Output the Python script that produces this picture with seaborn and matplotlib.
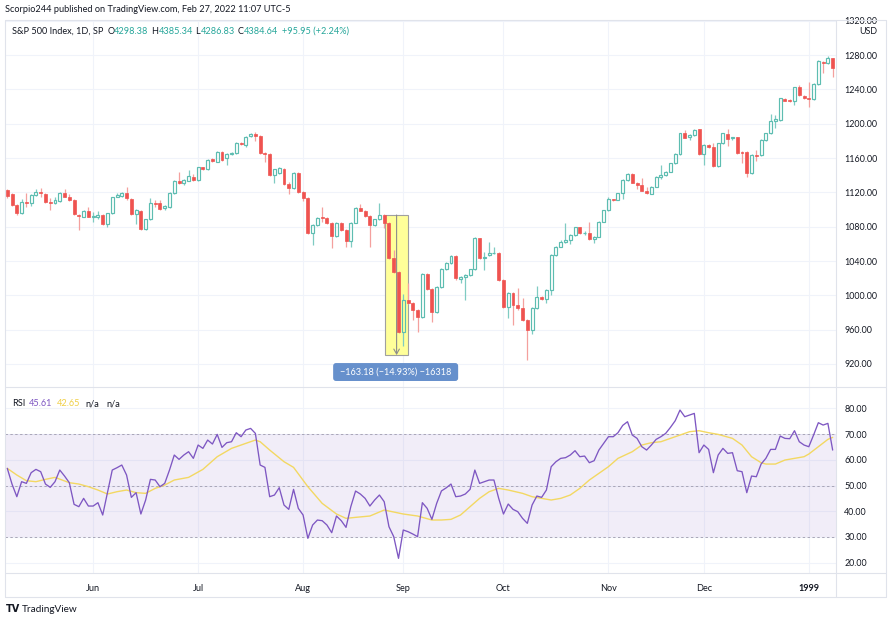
import numpy as np
import pandas as pd
import matplotlib
matplotlib.use("Agg")
import matplotlib.pyplot as plt
import seaborn as sns
from matplotlib.patches import Rectangle, FancyBboxPatch
from matplotlib.lines import Line2D

# daily candles, May 5 1998 .. Jan 11 1999 (bar index 0..173)
opens = [
    1122.7, 1118.1, 1105.3, 1095.5, 1109.1, 1107.2, 1116.9, 1120.0, 1118.1, 1109.1,
    1107.2, 1109.9, 1119.6, 1115.0, 1111.1, 1094.0, 1091.7, 1098.7, 1090.9, 1091.7,
    1093.6, 1083.1, 1095.5, 1115.0, 1115.7, 1118.9, 1112.6, 1094.8, 1098.7, 1076.9,
    1088.6, 1108.0, 1107.2, 1101.4, 1102.5, 1119.6, 1133.6, 1130.5, 1133.6, 1137.5,
    1134.4, 1149.1, 1146.8, 1158.5, 1155.7, 1167.4, 1159.6, 1164.7, 1165.5, 1177.9,
    1175.2, 1185.7, 1188.0, 1185.7, 1166.2, 1164.7, 1140.2, 1142.2, 1147.3, 1130.2,
    1125.2, 1143.0, 1120.8, 1113.0, 1073.0, 1081.9, 1091.6, 1089.7, 1083.9, 1069.1,
    1084.6, 1076.1, 1063.7, 1084.6, 1101.4, 1098.6, 1092.4, 1081.9, 1088.5, 1093.6,
    1084.6, 1043.1, 1027.6, 957.7, 994.5, 991.4, 982.9, 974.4, 1024.5, 1007.0,
    980.9, 1010.1, 1030.3, 1038.0, 1045.8, 1018.6, 1021.0, 1023.7, 1030.3, 1066.4,
    1043.1, 1047.0, 1048.9, 1049.7, 1017.9, 986.8, 1003.1, 988.7, 984.8, 971.2,
    959.6, 984.8, 998.4, 995.3, 1006.2, 1047.0, 1056.7, 1062.5, 1064.5, 1070.3,
    1079.2, 1072.2, 1073.0, 1065.6, 1068.3, 1085.8, 1099.4, 1111.9, 1111.1, 1118.8,
    1134.4, 1141.3, 1131.3, 1128.9, 1122.0, 1118.1, 1126.6, 1137.5, 1140.2, 1144.1,
    1153.8, 1164.7, 1188.7, 1184.1, 1186.8, 1193.4, 1164.7, 1175.1, 1172.4, 1150.7,
    1177.1, 1187.6, 1182.9, 1184.1, 1167.4, 1167.4, 1142.1, 1163.5, 1163.5, 1181.0,
    1188.7, 1203.5, 1204.3, 1229.1, 1227.6, 1226.0, 1242.3, 1232.2, 1229.9, 1228.4,
    1246.2, 1272.2, 1271.1, 1276.1,
]
highs = [
    1123.5, 1119.0, 1106.0, 1111.9, 1119.6, 1118.0, 1123.5, 1125.3, 1119.0, 1113.9,
    1114.2, 1120.5, 1123.5, 1118.1, 1112.0, 1095.0, 1099.5, 1103.3, 1097.5, 1098.3,
    1095.0, 1096.5, 1115.0, 1119.6, 1120.8, 1126.6, 1113.5, 1100.5, 1099.5, 1089.5,
    1113.0, 1111.1, 1111.1, 1105.0, 1120.5, 1134.5, 1144.1, 1135.5, 1146.0, 1141.4,
    1150.0, 1150.0, 1158.5, 1159.5, 1168.3, 1168.5, 1165.5, 1167.0, 1178.8, 1178.8,
    1185.5, 1189.5, 1190.7, 1186.5, 1167.0, 1165.5, 1147.5, 1149.0, 1148.0, 1132.0,
    1144.0, 1143.5, 1122.0, 1114.0, 1083.0, 1091.5, 1103.3, 1091.0, 1085.0, 1085.5,
    1085.5, 1077.0, 1085.5, 1102.5, 1106.4, 1099.5, 1093.5, 1089.5, 1107.2, 1094.5,
    1085.5, 1052.8, 1028.5, 1001.5, 1014.0, 992.5, 984.0, 1025.5, 1025.5, 1008.0,
    1011.0, 1031.5, 1039.0, 1047.0, 1046.5, 1022.0, 1024.5, 1031.0, 1067.5, 1067.0,
    1050.9, 1062.5, 1056.7, 1050.5, 1018.5, 1004.0, 1004.0, 1008.1, 996.5, 972.0,
    986.0, 1010.9, 999.5, 1007.0, 1048.0, 1057.5, 1064.5, 1084.7, 1071.0, 1080.0,
    1080.0, 1075.0, 1085.8, 1069.0, 1086.5, 1100.0, 1115.0, 1112.5, 1119.5, 1135.0,
    1142.0, 1142.0, 1132.0, 1136.3, 1126.6, 1127.5, 1138.5, 1151.9, 1145.0, 1154.5,
    1165.5, 1189.5, 1192.6, 1187.5, 1193.4, 1194.0, 1176.0, 1176.0, 1177.1, 1178.0,
    1189.5, 1193.4, 1185.0, 1185.0, 1168.0, 1168.0, 1164.5, 1169.3, 1182.0, 1189.5,
    1211.3, 1210.1, 1230.5, 1230.0, 1228.5, 1243.0, 1245.1, 1233.0, 1248.9, 1247.0,
    1274.0, 1273.0, 1278.8, 1277.0,
]
lows = [
    1113.0, 1104.0, 1094.0, 1094.5, 1103.3, 1104.1, 1116.0, 1115.0, 1108.0, 1099.4,
    1106.0, 1109.0, 1114.0, 1110.0, 1094.0, 1076.1, 1090.9, 1091.0, 1085.8, 1089.4,
    1082.0, 1080.0, 1094.5, 1114.0, 1115.0, 1111.1, 1093.6, 1083.1, 1076.0, 1076.0,
    1087.8, 1103.3, 1099.4, 1100.0, 1101.5, 1118.5, 1129.5, 1129.0, 1133.0, 1133.5,
    1133.5, 1145.5, 1146.0, 1155.0, 1155.0, 1157.0, 1151.9, 1163.5, 1164.7, 1175.0,
    1172.5, 1185.0, 1180.2, 1164.7, 1155.7, 1139.5, 1130.5, 1141.5, 1128.0, 1118.0,
    1124.0, 1119.0, 1110.0, 1072.0, 1058.6, 1081.0, 1085.8, 1083.0, 1054.7, 1068.0,
    1075.0, 1056.7, 1056.7, 1084.0, 1098.0, 1091.5, 1056.7, 1081.0, 1088.0, 1078.0,
    1042.0, 1026.0, 956.5, 941.0, 990.0, 971.2, 957.7, 973.5, 1006.0, 969.3,
    980.0, 1009.0, 1029.0, 1037.0, 1018.0, 1014.0, 994.5, 1022.0, 1029.5, 1042.0,
    1029.5, 1045.5, 1048.0, 1017.0, 985.5, 973.2, 965.4, 983.0, 970.0, 924.6,
    955.0, 984.0, 994.0, 990.7, 1000.4, 1046.0, 1056.0, 1061.5, 1059.8, 1069.5,
    1071.0, 1070.0, 1064.5, 1060.6, 1067.5, 1085.0, 1098.5, 1110.0, 1110.5, 1111.9,
    1133.5, 1130.5, 1124.0, 1121.0, 1118.0, 1117.5, 1126.0, 1136.0, 1139.0, 1143.5,
    1153.0, 1164.0, 1183.0, 1181.0, 1186.0, 1164.0, 1151.9, 1171.5, 1150.0, 1150.0,
    1176.5, 1174.0, 1181.5, 1164.5, 1154.6, 1138.3, 1141.0, 1156.9, 1162.5, 1180.0,
    1188.0, 1194.6, 1203.5, 1226.0, 1225.0, 1221.7, 1232.5, 1228.5, 1219.8, 1227.5,
    1245.5, 1259.4, 1270.0, 1254.8,
]
closes = [
    1115.7, 1105.3, 1095.5, 1109.1, 1107.2, 1116.9, 1120.8, 1118.9, 1109.1, 1107.2,
    1111.1, 1119.6, 1115.0, 1111.1, 1094.8, 1092.8, 1098.7, 1091.7, 1092.4, 1094.0,
    1083.1, 1095.5, 1114.2, 1116.9, 1119.6, 1113.0, 1094.8, 1099.4, 1076.9, 1088.6,
    1107.2, 1106.4, 1100.2, 1104.1, 1119.6, 1133.6, 1130.5, 1134.4, 1139.1, 1134.4,
    1149.1, 1146.8, 1157.7, 1156.1, 1167.4, 1157.7, 1164.7, 1166.2, 1177.9, 1176.3,
    1184.9, 1188.0, 1185.7, 1165.5, 1164.7, 1140.2, 1146.8, 1148.0, 1130.2, 1125.2,
    1143.0, 1120.7, 1113.0, 1073.0, 1081.9, 1090.5, 1089.7, 1083.9, 1069.1, 1084.6,
    1076.1, 1063.7, 1084.6, 1101.4, 1098.6, 1092.4, 1081.9, 1088.5, 1093.6, 1084.6,
    1043.1, 1027.6, 957.7, 994.5, 991.4, 982.9, 974.4, 1024.5, 1007.0, 980.9,
    1010.1, 1030.3, 1038.0, 1045.8, 1019.8, 1021.0, 1023.7, 1030.3, 1066.4, 1043.1,
    1045.0, 1048.9, 1049.7, 1017.9, 986.8, 1003.1, 988.7, 984.8, 971.2, 959.6,
    984.8, 998.4, 995.3, 1006.2, 1047.0, 1056.7, 1062.5, 1064.5, 1070.3, 1079.2,
    1072.2, 1073.0, 1065.6, 1068.3, 1085.8, 1099.4, 1111.9, 1111.1, 1118.8, 1134.4,
    1141.3, 1131.3, 1128.9, 1122.0, 1118.8, 1126.6, 1137.5, 1140.2, 1144.1, 1153.8,
    1164.7, 1188.7, 1183.7, 1186.8, 1192.6, 1164.7, 1175.1, 1172.4, 1150.7, 1177.1,
    1188.7, 1181.7, 1184.1, 1165.4, 1165.4, 1142.1, 1163.5, 1162.7, 1181.0, 1188.7,
    1203.5, 1205.1, 1229.5, 1226.8, 1226.0, 1242.3, 1233.4, 1229.5, 1228.4, 1246.2,
    1273.0, 1270.3, 1276.1, 1264.5,
]

rsi = [
    56.67, 50.50, 45.66, 51.49, 50.84, 54.99, 56.28, 55.38, 50.58, 49.29,
    51.49, 56.02, 53.69, 51.10, 42.68, 41.78, 45.01, 42.03, 42.03, 43.33,
    38.54, 47.22, 56.02, 56.93, 57.97, 54.08, 45.40, 47.22, 38.93, 44.37,
    52.40, 52.14, 49.55, 50.84, 56.02, 61.85, 60.17, 61.85, 63.15, 60.56,
    65.74, 64.44, 67.68, 66.13, 69.88, 64.83, 66.65, 67.03, 70.53, 68.98,
    71.57, 72.21, 70.27, 57.97, 57.06, 45.66, 46.31, 49.16, 42.42, 40.74,
    48.51, 41.13, 38.54, 29.47, 34.65, 36.59, 36.33, 34.65, 31.67, 38.15,
    36.33, 33.74, 41.78, 47.86, 46.70, 45.01, 42.03, 44.37, 46.31, 43.72,
    34.00, 30.12, 21.70, 32.71, 32.06, 31.15, 30.12, 43.33, 41.13, 36.85,
    43.07, 47.90, 49.10, 50.58, 45.66, 45.92, 46.70, 48.51, 56.02, 50.84,
    51.49, 52.14, 52.14, 45.01, 38.93, 42.81, 40.74, 39.83, 37.24, 35.30,
    42.42, 45.92, 45.40, 48.25, 57.32, 59.26, 60.56, 60.82, 61.85, 63.54,
    61.20, 61.46, 58.87, 59.65, 63.79, 66.38, 68.98, 68.98, 70.53, 73.38,
    74.80, 69.62, 68.33, 65.09, 63.79, 65.74, 67.94, 68.98, 70.27, 72.60,
    75.19, 79.34, 76.75, 77.40, 78.04, 62.76, 65.74, 64.05, 54.99, 61.85,
    64.44, 62.50, 62.76, 55.76, 55.38, 47.22, 53.69, 53.43, 58.35, 60.56,
    64.05, 64.05, 69.24, 68.33, 68.20, 71.31, 67.03, 65.74, 65.09, 69.62,
    74.42, 73.51, 74.16, 63.79,
]

# RSI moving average (yellow), read at a subset of bars
rsi_ma_bar = [0, 2, 4, 6, 8, 10, 13, 15, 17, 19, 21, 23, 25, 27, 29, 31, 33, 35, 38, 41,
              44, 47, 50, 52, 53, 55, 58, 60, 63, 66, 69, 71, 73, 76, 79, 83, 86, 89, 91, 93,
              95, 97, 99, 101, 103, 105, 108, 110, 112, 114, 116, 118, 120, 122, 124, 126, 128, 131, 133, 135,
              137, 139, 141, 143, 145, 147, 149, 152, 154, 156, 158, 159, 161, 163, 165, 167, 168, 170, 172, 173]
rsi_ma = [56.67, 54.08, 51.88, 51.49, 52.40, 53.17, 51.10, 50.58, 49.55, 48.25, 46.70, 47.60, 48.25, 47.22, 46.96, 48.90, 50.19, 52.14, 53.17, 56.28,
          61.20, 64.44, 66.39, 67.68, 67.03, 63.79, 59.26, 57.06, 49.55, 43.07, 38.93, 37.24, 37.63, 38.15, 40.48, 38.93, 38.15, 36.59, 36.60, 36.85,
          38.54, 41.78, 45.01, 47.60, 48.90, 48.25, 46.96, 45.66, 45.01, 44.37, 45.01, 46.31, 48.90, 52.14, 54.73, 57.32, 60.56, 63.15, 65.74, 66.65,
          67.03, 68.33, 69.62, 70.92, 71.31, 70.53, 69.88, 68.33, 65.74, 61.20, 58.87, 58.35, 58.35, 59.91, 60.56, 61.20, 62.24, 65.09, 67.94, 68.72]

month_labels = ["Jun", "Jul", "Aug", "Sep", "Oct", "Nov", "Dec", "1999"]
month_bars = [18, 40, 62, 83, 104, 126, 146, 168]

# price measurement drawing (bars 79.2..84.0, 1093.58 -> 930.40)
measure_x0, measure_x1 = 79.2, 84.0
measure_top, measure_bottom = 1093.58, 930.40
measure_text = "\u2212163.18 (\u221214.93%) \u221216318"

df = pd.DataFrame({"open": opens, "high": highs, "low": lows, "close": closes, "rsi": rsi})
df["bar"] = np.arange(len(df))

sns.set_style("white")
plt.rcParams["font.family"] = ["Lato", "DejaVu Sans"]

W, H = 891, 618
fig = plt.figure(figsize=(W / 100, H / 100), dpi=100)
fig.patch.set_facecolor("white")

def fx(x):
    return x / W

def fy(y):
    return 1 - y / H

dark = "#131722"
teal = "#26a69a"
red = "#ef5350"
purple = "#7e57c2"
yellow = "#f3d862"
gridc = "#f0f3fa"
framec = "#e0e3eb"

ax = fig.add_axes([fx(5), fy(387), (836 - 5) / W, (387 - 20) / H])
ax2 = fig.add_axes([fx(5), fy(573), (836 - 5) / W, (573 - 387) / H])

# ---- candles
up = df[df["close"] >= df["open"]]
dn = df[df["close"] < df["open"]]
up_lo = np.minimum(up["open"], up["close"])
up_hi = np.maximum(up["open"], up["close"])
ax.vlines(up["bar"], up_hi, up["high"], color="#7fcbc2", lw=0.9, zorder=3)
ax.vlines(up["bar"], up["low"], up_lo, color="#7fcbc2", lw=0.9, zorder=3)
ax.bar(up["bar"], np.maximum(up_hi - up_lo, 0.8), bottom=up_lo, width=0.62,
       facecolor="none", edgecolor="#5dbdb1", linewidth=0.85, zorder=4)
ax.vlines(dn["bar"], dn["low"], dn["high"], color="#f4a09e", lw=0.9, zorder=3)
ax.bar(dn["bar"], np.maximum(dn["open"] - dn["close"], 0.8), bottom=dn["close"], width=0.62,
       color=red, edgecolor=red, linewidth=0.5, zorder=4)

ax.set_xlim(-0.48, 173.7)
ax.set_ylim(893.2, 1320.8)
ax.yaxis.tick_right()
ax.set_yticks(np.arange(920, 1321, 40))
ax.set_yticklabels([f"{v:.2f}" for v in np.arange(920, 1321, 40)])
ax.set_xticks(month_bars)
ax.tick_params(axis="x", length=0, labelbottom=False)
ax.tick_params(axis="y", length=0, pad=6, labelsize=6.4, labelcolor=dark)
ax.grid(True, color=gridc, lw=0.8)
ax.set_axisbelow(True)
for s in ax.spines.values():
    s.set_visible(False)

# measurement box
ax.add_patch(Rectangle((measure_x0, measure_bottom), measure_x1 - measure_x0,
                       measure_top - measure_bottom, facecolor="#ffff99", edgecolor="#a0a0a0",
                       lw=0.8, zorder=2))
mid = (measure_x0 + measure_x1) / 2
ax.annotate("", xy=(mid, measure_bottom), xytext=(mid, measure_top),
            arrowprops=dict(arrowstyle="->,head_length=0.35,head_width=0.2", color="#8c8c8c",
                            lw=0.8, shrinkA=0, shrinkB=0), zorder=5)
ax.add_patch(FancyBboxPatch((68.3, 900.2), 94.5 - 68.3, 921.1 - 900.2,
                            boxstyle="round,pad=0,rounding_size=0.6", mutation_aspect=5.5,
                            facecolor="#6690cc", edgecolor="none", zorder=6))
ax.text((68.3 + 94.5) / 2, (900.2 + 921.1) / 2, measure_text, ha="center", va="center",
        color="white", fontsize=6.6, zorder=7)

# ---- RSI pane
ax2.axhspan(30, 70, color=purple, alpha=0.1, lw=0)
for v in (70, 50, 30):
    ax2.axhline(v, color="#a9a6b7", lw=0.7, ls=(0, (2.5, 2.5)), zorder=2)
sns.lineplot(x=rsi_ma_bar, y=rsi_ma, ax=ax2, color=yellow, lw=1.0, estimator=None, zorder=3)
sns.lineplot(data=df, x="bar", y="rsi", ax=ax2, color=purple, lw=0.95, estimator=None, zorder=4)
ax2.set_xlim(-0.48, 173.7)
ax2.set_ylim(16.0, 88.3)
ax2.yaxis.tick_right()
ax2.set_yticks(np.arange(20, 81, 10))
ax2.set_yticklabels([f"{v:.2f}" for v in np.arange(20, 81, 10)])
ax2.set_xticks(month_bars)
ax2.set_xticklabels(month_labels)
ax2.get_xticklabels()[-1].set_fontweight("bold")
ax2.tick_params(axis="x", length=0, pad=8, labelsize=6.6, labelcolor=dark)
ax2.tick_params(axis="y", length=0, pad=6, labelsize=6.4, labelcolor=dark)
ax2.set_xlabel("")
ax2.set_ylabel("")
ax2.grid(True, color=gridc, lw=0.8)
ax2.set_axisbelow(True)
for s in ax2.spines.values():
    s.set_visible(False)

# ---- frame lines
def hline(y, x0=5, x1=886):
    fig.add_artist(Line2D([fx(x0), fx(x1)], [fy(y), fy(y)], color=framec, lw=0.8))

def vline(x, y0=20, y1=597):
    fig.add_artist(Line2D([fx(x), fx(x)], [fy(y0), fy(y1)], color=framec, lw=0.8))

for y in (20, 387, 573, 597):
    hline(y)
for x in (5, 836, 886):
    vline(x)

# ---- texts
def ftext(x, y, s, **kw):
    fig.text(fx(x), fy(y), s, va="center", **kw)

ftext(5, 10, "Scorpio244 published on TradingView.com, Feb 27, 2022 11:07 UTC-5",
      fontsize=6.6, color=dark)

header = [("S&P 500 Index, 1D, SP", 12, dark), ("O", 108, dark), ("4298.38", 114, teal),
          ("H", 151.5, dark), ("4385.34", 158.5, teal), ("L", 195.5, dark), ("4286.83", 200.5, teal),
          ("C", 238, dark), ("4384.64", 244, teal), ("+95.95 (+2.24%)", 281.5, teal)]
for s, x, c in header:
    ftext(x, 31, s, fontsize=6.6, color=c)

legend = [("RSI", 11.7, dark), ("45.61", 29.3, purple), ("42.65", 57.3, "#f0cf45"),
          ("n/a", 85, dark), ("n/a", 106, dark)]
for s, x, c in legend:
    ftext(x, 404, s, fontsize=6.6, color=c)

ftext(877, 31, "USD", fontsize=6.4, color=dark, ha="right")

ftext(6, 609, "TV", fontsize=7, color=dark, fontweight="heavy", family="DejaVu Sans")
ftext(22, 609, "TradingView", fontsize=7.2, color=dark)

fig.savefig("out.png", dpi=100, facecolor="white")
